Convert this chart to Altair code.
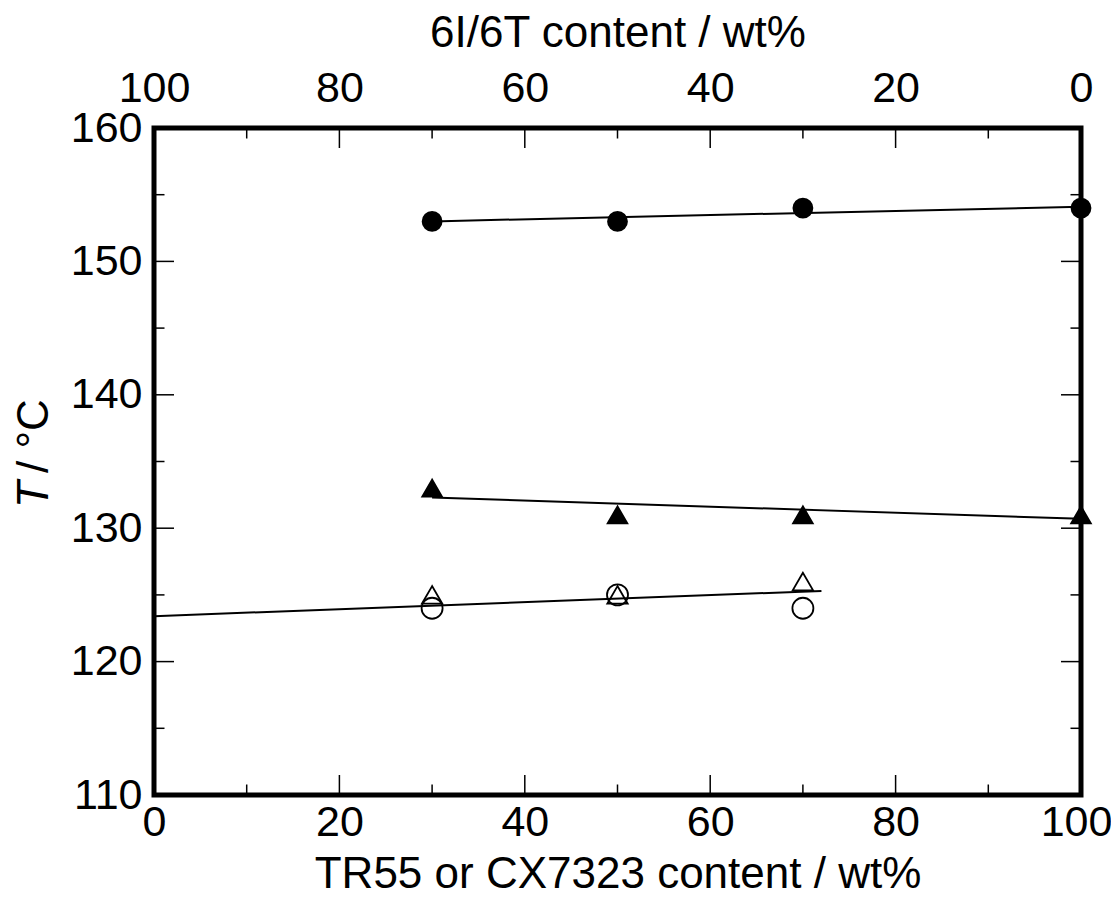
import altair as alt
import pandas as pd

# ---------------- data ----------------
# x = TR55 or CX7323 content / wt%   (top axis: 6I/6T content = 100 - x)
x_main = [30, 50, 70, 100]
closed_circle_T = [153, 153, 154, 154]
closed_triangle_T = [133, 131, 131, 131]

x_open = [30, 50, 70]
open_triangle_T = [125, 125, 126]
open_circle_T = [124, 125, 124]

# hand-drawn fit lines (end points)
fit_cc_x = [30, 100]
fit_cc_T = [153.0, 154.1]
fit_ct_x = [30, 100]
fit_ct_T = [132.3, 130.7]
fit_open_x = [0, 72]
fit_open_T = [123.4, 125.3]

x_labels = [0, 20, 40, 60, 80, 100]
y_labels = [110, 120, 130, 140, 150, 160]
x_major_ticks = [20, 40, 60, 80]
x_minor_ticks = [10, 30, 50, 70, 90]
y_major_ticks = [120, 130, 140, 150]
y_minor_ticks = [115, 125, 135, 145, 155]

series_names = ["closed circle", "closed triangle", "open triangle", "open circle"]
series_shapes = ["circle", "triangle-up", "triangle-up", "circle"]
series_fills = ["#000000", "#000000", "transparent", "transparent"]
series_sizes = [361, 441, 400, 330]

# ---------------- tables ----------------
rows = []
for xv, t in zip(x_main, closed_circle_T):
    rows.append({"x": xv, "T": t, "series": series_names[0]})
for xv, t in zip(x_main, closed_triangle_T):
    rows.append({"x": xv, "T": t, "series": series_names[1]})
for xv, t in zip(x_open, open_triangle_T):
    rows.append({"x": xv, "T": t, "series": series_names[2]})
for xv, t in zip(x_open, open_circle_T):
    rows.append({"x": xv, "T": t, "series": series_names[3]})
points_df = pd.DataFrame(rows)

fit_rows = []
for name, xs_, ts_ in [("cc", fit_cc_x, fit_cc_T), ("ct", fit_ct_x, fit_ct_T),
                       ("open", fit_open_x, fit_open_T)]:
    for xv, t in zip(xs_, ts_):
        fit_rows.append({"x": xv, "T": t, "fit": name})
fit_df = pd.DataFrame(fit_rows)

W, H = 927, 667
FONT = "Liberation Sans"
LABEL_SIZE = 43
TITLE_SIZE = 44
MAJOR, MINOR = 20, 10.5

xs = alt.Scale(domain=[0, 100], nice=False, zero=False)
ys = alt.Scale(domain=[110, 160], nice=False, zero=False)

y_axis = alt.Axis(values=y_labels, title=None, ticks=False, domain=False, grid=False,
                  labelFontSize=LABEL_SIZE, labelFont=FONT, labelColor="black",
                  labelPadding=12, labelFlush=False, labelOverlap=False)

bottom_axis = alt.Axis(orient="bottom", values=x_labels, ticks=False, domain=False, grid=False,
                       labelFontSize=LABEL_SIZE, labelFont=FONT, labelColor="black",
                       labelPadding=6, labelFlush=False, labelOverlap=False,
                       labelOffset={"condition": {"test": "datum.value == 100", "value": -5},
                                    "value": 0},
                       title="TR55 or CX7323 content / wt%", titleFontSize=TITLE_SIZE,
                       titleFont=FONT, titleFontWeight="normal", titleColor="black",
                       titlePadding=8)

top_axis = alt.Axis(orient="top", values=x_labels, labelExpr="100 - datum.value",
                    ticks=False, domain=False, grid=False,
                    labelFontSize=LABEL_SIZE, labelFont=FONT, labelColor="black",
                    labelPadding=18, labelFlush=False, labelOverlap=False,
                    title="6I/6T content / wt%", titleFontSize=TITLE_SIZE,
                    titleFont=FONT, titleFontWeight="normal", titleColor="black",
                    titlePadding=12)

points = alt.Chart(points_df).mark_point(stroke="black", strokeWidth=1.8, opacity=1).encode(
    x=alt.X("x:Q", scale=xs, axis=bottom_axis),
    y=alt.Y("T:Q", scale=ys, axis=y_axis),
    shape=alt.Shape("series:N", scale=alt.Scale(domain=series_names, range=series_shapes), legend=None),
    fill=alt.Fill("series:N", scale=alt.Scale(domain=series_names, range=series_fills), legend=None),
    size=alt.Size("series:N", scale=alt.Scale(domain=series_names, range=series_sizes), legend=None),
)

lines = alt.Chart(fit_df).mark_line(color="black", strokeWidth=2).encode(
    x=alt.X("x:Q", scale=xs, axis=top_axis),
    y=alt.Y("T:Q", scale=ys, axis=y_axis),
    detail="fit:N",
)

def xticks(vals, length):
    df = pd.DataFrame({"v": vals})
    bottom = alt.Chart(df).mark_rule(color="black", strokeWidth=1.5).encode(
        x=alt.X("v:Q", scale=xs, axis=None), y=alt.value(H), y2=alt.value(H - length))
    top = alt.Chart(df).mark_rule(color="black", strokeWidth=1.5).encode(
        x=alt.X("v:Q", scale=xs, axis=None), y=alt.value(0), y2=alt.value(length))
    return [bottom, top]

def yticks(vals, length):
    df = pd.DataFrame({"v": vals})
    left = alt.Chart(df).mark_rule(color="black", strokeWidth=1.5).encode(
        y=alt.Y("v:Q", scale=ys, axis=y_axis), x=alt.value(0), x2=alt.value(length))
    right = alt.Chart(df).mark_rule(color="black", strokeWidth=1.5).encode(
        y=alt.Y("v:Q", scale=ys, axis=y_axis), x=alt.value(W), x2=alt.value(W - length))
    return [left, right]

# y-axis title: italic "T" followed by " / °C"
ytitle_T = alt.Chart(pd.DataFrame({"s": ["T"]})).mark_text(
    angle=270, align="left", baseline="alphabetic", font=FONT, fontStyle="italic",
    fontSize=TITLE_SIZE, color="black").encode(
    text="s:N", x=alt.value(-106), y=alt.value(380))
ytitle_rest = alt.Chart(pd.DataFrame({"s": ["/ °C"]})).mark_text(
    angle=270, align="left", baseline="alphabetic", font=FONT,
    fontSize=TITLE_SIZE, color="black").encode(
    text="s:N", x=alt.value(-106), y=alt.value(345))

layers = [points, lines] + xticks(x_major_ticks, MAJOR) + xticks(x_minor_ticks, MINOR) \
    + yticks(y_major_ticks, MAJOR) + yticks(y_minor_ticks, MINOR) + [ytitle_T, ytitle_rest]

chart = alt.layer(*layers).resolve_axis(x="independent").properties(
    width=W, height=H,
    autosize=alt.AutoSizeParams(type="none"),
    padding={"left": 146, "top": 120, "right": 30, "bottom": 100},
    background="white",
).configure_view(stroke="black", strokeWidth=5)

chart.save("out.html", embed_options={"renderer": "svg", "actions": False})
